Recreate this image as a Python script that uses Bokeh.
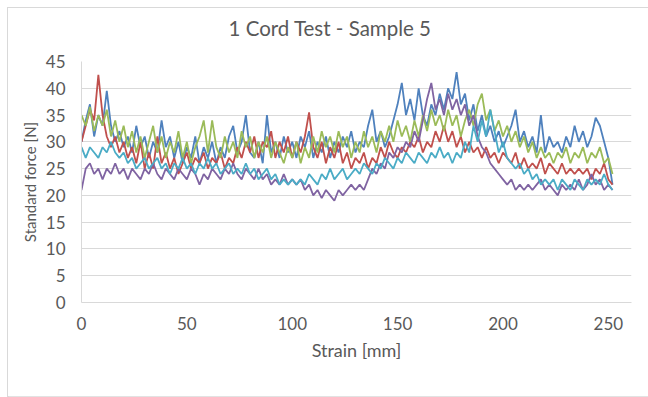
from bokeh.plotting import figure
from bokeh.layouts import column
from bokeh.models import Range1d, FixedTicker, Legend, LegendItem, ColumnDataSource, Title
from bokeh.embed import file_html
from bokeh.resources import INLINE

# Strain sample points [mm]
strain = [2 * i for i in range(127)]

specimen_1 = [
    30, 34, 37, 31, 35, 33, 39.5, 33, 30, 32,
    29, 31, 28, 33, 29, 31, 27, 30, 28, 34,
    29, 31, 27, 30, 26, 29, 27, 31, 26, 29,
    27, 30, 26, 29, 27, 31, 33, 28, 30, 35,
    28, 27, 30, 26, 35, 28, 30, 27, 31, 28,
    30, 27, 31, 29, 32, 27, 30, 28, 31, 27,
    30, 28, 31, 29, 32, 28, 30, 29, 33, 36,
    30, 32, 29, 31, 34, 37, 41, 35, 38, 34,
    40, 35, 33, 37, 35, 39, 36, 40, 38, 43,
    37, 39, 34, 37, 32, 35, 31, 33, 30, 32,
    29, 31, 33, 36, 30, 32, 29, 31, 28, 35,
    28, 31, 29, 30, 28, 31, 29, 33, 30, 32,
    29, 31, 34.5, 33, 30, 27, 22,
]
specimen_2 = [
    30, 33, 36, 34, 42.5, 35, 31, 29, 31, 28,
    30, 27, 29, 26, 30, 25, 28, 25, 31, 26,
    28, 25, 27, 24, 26, 28, 25, 27, 26, 28,
    25, 27, 26, 28, 25, 27, 26, 29, 27, 30,
    28, 31, 27, 30, 29, 32, 27, 30, 28, 31,
    27, 30, 28, 31, 35.5, 29, 27, 30, 26, 29,
    27, 30, 26, 28, 25, 27, 26, 28, 25, 27,
    26, 29, 27, 30, 28, 27, 29, 28, 30, 29,
    31, 28, 30, 29, 32, 30, 33, 30, 32, 29,
    31, 28, 30, 28, 29, 27, 29, 27, 28, 26,
    28, 27, 26, 28, 25, 27, 25, 26, 25, 27,
    24, 26, 25, 24, 26, 24, 25, 24, 25, 24,
    25, 23, 25, 24, 26, 23, 22,
]
specimen_3 = [
    35, 33, 36.5, 32, 35, 33, 36, 31, 34, 30,
    33, 29, 32, 28, 31, 27, 30, 33, 28, 31,
    27, 30, 28, 32, 27, 30, 26, 29, 31, 34,
    28, 34, 29, 27, 31, 28, 30, 27, 32, 29,
    31, 27, 30, 28, 31, 27, 30, 28, 26, 29,
    27, 30, 26, 29, 27, 31, 28, 32, 29, 31,
    28, 32, 29, 31, 27, 30, 28, 32, 29, 31,
    28, 32, 30, 33, 30, 34, 31, 33, 30, 34,
    31, 35, 32, 36, 33, 35, 32, 36, 33, 35,
    31, 34, 36, 33, 37, 39, 34, 36, 32, 34,
    31, 33, 30, 32, 29, 31, 28, 30, 27, 29,
    27, 28, 26, 28, 27, 29, 26, 28, 27, 29,
    26, 28, 27, 29, 26, 27, 24,
]
specimen_4 = [
    21, 25, 26, 24, 25, 23, 25, 24, 26, 24,
    25, 23, 25, 24, 23, 25, 24, 26, 24, 23,
    25, 24, 23, 25, 24, 23, 25, 24, 22, 24,
    23, 25, 24, 23, 25, 24, 26, 24, 23, 25,
    24, 23, 25, 23, 24, 22, 23, 22, 24, 22,
    23, 22, 23, 21, 22, 20, 21, 19.5, 21, 20,
    19, 21, 20, 21, 22, 21, 22, 21, 23, 25,
    24, 26, 25, 28, 27, 29, 28, 30, 29, 32,
    30, 34, 38, 41, 36, 38, 35, 39, 36, 38,
    35, 37, 33, 35, 31, 29, 28, 26, 25, 24,
    23, 22, 23, 21, 22, 21, 22, 21, 22, 23,
    21, 22, 21, 20, 22, 21, 22, 21, 23, 21,
    22, 24, 22, 23, 21, 22, 21,
]
specimen_5 = [
    29, 27, 29, 28, 27, 29, 28, 30, 28, 27,
    28, 26, 27, 25, 26, 27, 25, 26, 27, 25,
    26, 24, 26, 25, 27, 25, 26, 24, 26, 25,
    27, 25, 26, 24, 25, 26, 24, 25, 24, 26,
    24, 25, 23, 24, 25, 23, 24, 22, 23, 22,
    23, 22, 23, 22, 24, 23, 22, 24, 23, 25,
    23, 24, 25, 23, 24, 25, 24, 26, 25, 24,
    26, 25, 27, 26, 25, 27, 26, 28, 27, 26,
    28, 27, 26, 28, 27, 29, 27, 28, 26, 28,
    27, 30, 28, 33, 30, 34, 31, 36, 32, 28,
    30, 27, 26, 25, 26, 24, 25, 23, 24, 22,
    23, 22, 23, 21, 23, 22, 21, 23, 22, 21,
    23, 22, 23, 22, 24, 22, 21,
]

series_names = ["Specimen 1", "Specimen 2", "Specimen 3", "Specimen 4", "Specimen 5"]
series_values = [specimen_1, specimen_2, specimen_3, specimen_4, specimen_5]
colors = ["#4F81BD", "#C0504D", "#9BBB59", "#8064A2", "#4BACC6"]
x_ticks = [0, 50, 100, 150, 200, 250]
y_ticks = [0, 5, 10, 15, 20, 25, 30, 35, 40, 45]
title_text = "1 Cord Test - Sample 5"

FONT = "Lato"
TXT = "#595959"
GRID = "#D9D9D9"

p = figure(width=640, height=363, x_range=Range1d(0, 261), y_range=Range1d(0, 45),
           output_backend="svg", toolbar_location=None, title_location=None,
           min_border_left=73, min_border_right=17, min_border_top=53, min_border_bottom=69)
p.outline_line_color = None
p.background_fill_color = "white"
p.border_fill_color = "white"

# spacer between title and plot frame, then the title itself
p.add_layout(Title(text=" ", text_font_size="8px", standoff=11), "above")
p.add_layout(Title(text=title_text, align="left", offset=147, text_font=FONT,
                   text_font_style="normal", text_font_size="20.5px",
                   text_color=TXT, standoff=0), "above")

renderers = []
for name, vals, col in zip(series_names, series_values, colors):
    src = ColumnDataSource(dict(x=strain, y=vals))
    r = p.line("x", "y", source=src, line_color=col, line_width=1.8)
    renderers.append((name, r))

p.xgrid.grid_line_color = None
p.ygrid.grid_line_color = GRID
p.ygrid.grid_line_width = 1

for ax in (p.xaxis[0], p.yaxis[0]):
    ax.axis_line_color = GRID
    ax.major_tick_line_color = None
    ax.minor_tick_line_color = None
    ax.major_label_text_font = FONT
    ax.major_label_text_font_size = "17px"
    ax.major_label_text_color = TXT
    ax.axis_label_text_font = FONT
    ax.axis_label_text_font_style = "normal"
    ax.axis_label_text_color = TXT

p.xaxis.axis_label_text_font_size = "18px"
p.yaxis.axis_label_text_font_size = "15px"
p.xaxis.ticker = FixedTicker(ticks=x_ticks)
p.yaxis.ticker = FixedTicker(ticks=y_ticks)
p.xaxis.axis_label = "Strain [mm]"
p.yaxis.axis_label = "Standard force [N]"
p.xaxis.major_label_standoff = 8
p.yaxis.major_label_standoff = 10
p.xaxis.axis_label_standoff = 6
p.yaxis.axis_label_standoff = 4

# legend strip under the chart (same series; data lies outside this strip's range)
leg_fig = figure(width=640, height=25, x_range=Range1d(0, 261), y_range=Range1d(100, 101),
                 output_backend="svg", toolbar_location=None, min_border=0,
                 x_axis_location=None, y_axis_location=None)
leg_fig.grid.visible = False
leg_fig.outline_line_color = None
leg_fig.background_fill_color = "white"
leg_fig.border_fill_color = "white"
items = []
for name, vals, col in zip(series_names, series_values, colors):
    lr = leg_fig.line(strain, vals, line_color=col, line_width=1.8)
    items.append(LegendItem(label=name, renderers=[lr]))

legend = Legend(items=items, orientation="horizontal", location=(-40, 30))
legend.label_text_font = FONT
legend.label_text_font_size = "17px"
legend.label_text_color = TXT
legend.glyph_width = 22
legend.glyph_height = 18
legend.label_standoff = 2
legend.spacing = 9
legend.padding = 0
legend.margin = 0
legend.border_line_color = None
legend.background_fill_alpha = 0
leg_fig.add_layout(legend, "below")

lay = column(p, leg_fig, spacing=0)
lay.margin = (7, 0, 0, 7)
lay.styles = {"border": "1px solid #D9D9D9", "background-color": "white"}

open("out.html", "w").write(file_html(lay, INLINE))
